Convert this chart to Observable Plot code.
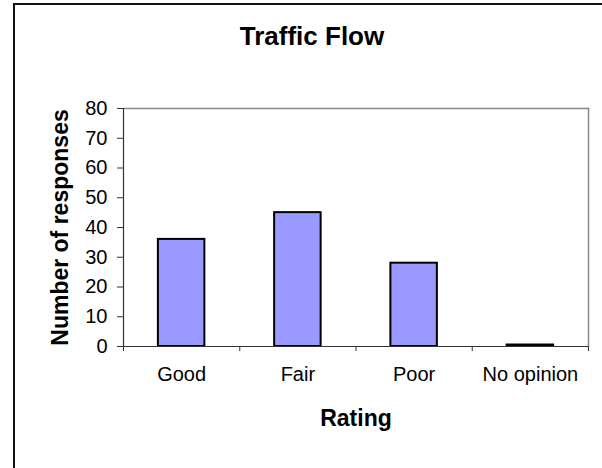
<!DOCTYPE html>
<html>
<head>
<meta charset="utf-8">
<script src="https://cdn.jsdelivr.net/npm/d3@7"></script>
<script src="https://cdn.jsdelivr.net/npm/@observablehq/plot@0.6"></script>
<style>
  html, body { margin: 0; padding: 0; background: #fff; }
  #wrap { position: relative; width: 602px; height: 468px; overflow: hidden; font-family: "Liberation Sans", Arial, sans-serif; }
  #border { position: absolute; left: 13px; top: 3px; width: 700px; height: 600px; border: 2px solid #111; box-sizing: border-box; }
  #title { position: absolute; left: 14px; width: 596px; top: 21px; text-align: center; font-weight: bold; font-size: 26px; color: #000; }
  #chart { position: absolute; left: 0; top: 0; }
</style>
</head>
<body>
<div id="wrap">
  <div id="border"></div>
  <div id="title">Traffic Flow</div>
  <div id="chart"></div>
</div>
<script>
const categories = ["Good", "Fair", "Poor", "No opinion"];
const responses = [36, 45, 28, 0.5];
const yTicks = [0, 10, 20, 30, 40, 50, 60, 70, 80];
const title = "Traffic Flow";
const xTitle = "Rating";
const yTitle = "Number of responses";

const data = categories.map((c, i) => ({category: c, index: i, value: responses[i]}));
const font = "'Liberation Sans', Arial, sans-serif";

const chart = Plot.plot({
  width: 602,
  height: 468,
  marginLeft: 123,
  marginRight: 14,
  marginTop: 108,
  marginBottom: 122,
  style: {fontFamily: font, background: "transparent", color: "#000"},
  x: {type: "linear", domain: [0, categories.length]},
  y: {domain: [0, 80]},
  marks: [
    Plot.frame({anchor: "top", stroke: "#888", strokeWidth: 1.5}),
    Plot.frame({anchor: "right", stroke: "#888", strokeWidth: 1.5}),
    Plot.rectY(data, {x1: d => d.index + 0.3, x2: d => d.index + 0.7, y: "value", fill: "#9999FF", stroke: "#000", strokeWidth: 2}),
    Plot.axisY({ticks: yTicks, tickSize: 6, tickPadding: 10, fontSize: 20, label: null, stroke: "#333", strokeOpacity: 1}),
    Plot.axisX({ticks: d3.range(0, categories.length + 1), tickSize: 5, tickFormat: () => "", label: null, stroke: "#333", strokeOpacity: 1}),
    Plot.ruleX([0], {stroke: "#333", strokeWidth: 1.2}),
    Plot.ruleY([0], {stroke: "#333", strokeWidth: 1.2}),
    Plot.text(data, {x: d => d.index + 0.5, text: "category", frameAnchor: "bottom", dy: 34, fontSize: 20, fill: "#000"}),
    Plot.text([xTitle], {frameAnchor: "bottom", dy: 79, fontSize: 23, fontWeight: "bold", fill: "#000", textAnchor: "middle"}),
    Plot.text([yTitle], {frameAnchor: "left", dx: -63, rotate: -90, textAnchor: "middle", fontSize: 23, fontWeight: "bold", fill: "#000"})
  ]
});
document.getElementById("chart").appendChild(chart);
document.getElementById("title").textContent = title;
</script>
</body>
</html>
